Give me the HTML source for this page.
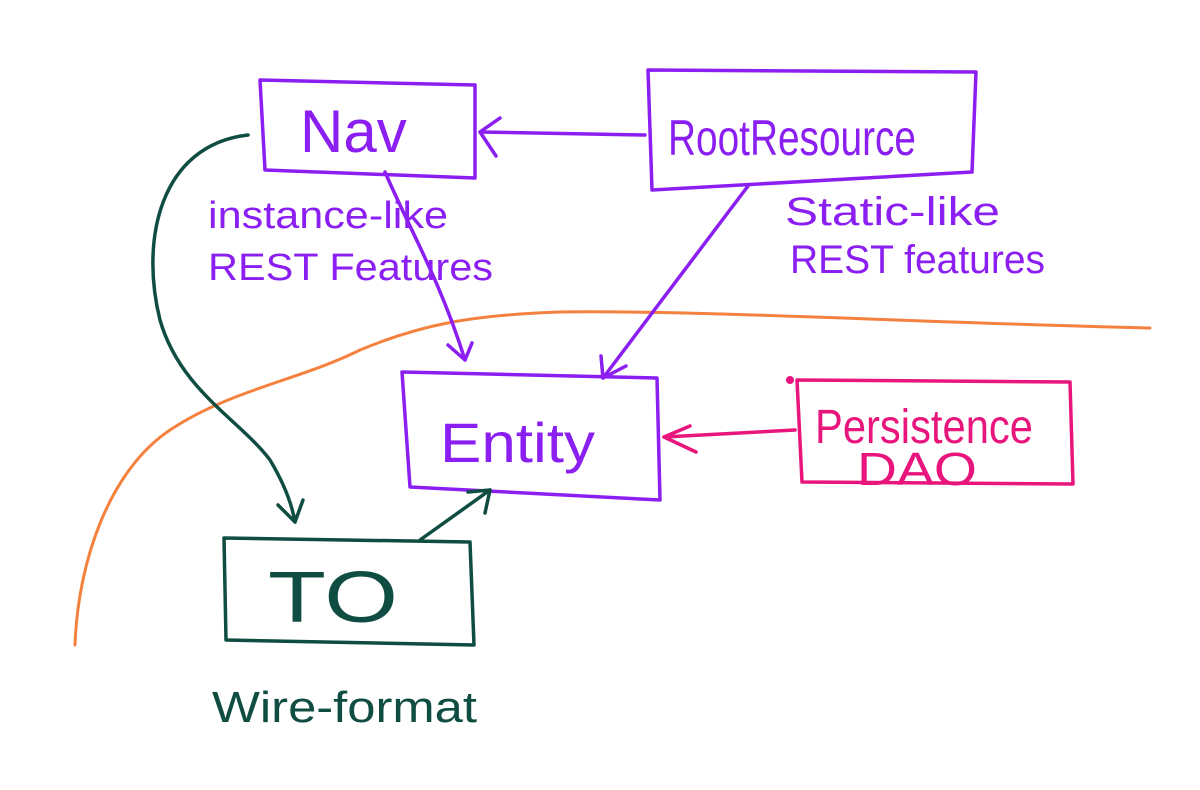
<!DOCTYPE html>
<html><head><meta charset="utf-8"><style>
html,body{margin:0;padding:0;background:#fff;width:1200px;height:790px;overflow:hidden}
svg text{font-family:"Liberation Sans",sans-serif}
</style></head><body>
<svg width="1200" height="790" viewBox="0 0 1200 790" xmlns="http://www.w3.org/2000/svg" fill="none" stroke-linecap="round" stroke-linejoin="round">
<path d="M75,645 C78,560 110,470 170,430 C230,390 300,380 360,350 C420,325 470,315 560,312 C700,310 900,322 1150,328" stroke="#f5813f" stroke-width="3"/>
<g stroke="#8b1ef0" stroke-width="3.5">
<path d="M260,80 L475,85 L475,178 L265,170 Z"/>
<path d="M648,70 L976,72 L972,172 L652,190 Z"/>
<path d="M402,372 L657,378 L660,500 L410,487 Z"/>
<path d="M645,135 L480,132"/><path d="M500,118 L480,132 L496,156"/>
<path d="M748,186 L603,378"/><path d="M601,356 L603,378 L626,366"/>
<path d="M385,172 C410,230 440,280 465,360"/><path d="M448,345 L465,360 L472,343"/>
</g>
<g stroke="#e8157c" stroke-width="3.5">
<path d="M797,380 L1070,382 L1073,484 L802,482 Z"/>
<path d="M795,430 L664,437"/><path d="M690,426 L664,437 L696,452"/>
</g>
<circle cx="790" cy="380" r="4" fill="#e8157c"/>
<g stroke="#0f4d42" stroke-width="3.5">
<path d="M224,538 L470,542 L474,645 L226,640 Z"/>
<path d="M248,135 C160,145 140,240 160,320 C180,390 240,420 270,460 C285,485 292,505 295,522"/>
<path d="M278,505 L295,522 L303,500"/>
<path d="M420,540 L490,490"/><path d="M468,492 L490,490 L485,513"/>
</g>
<text x="300" y="152" font-size="60" fill="#8b1ef0">Nav</text>
<text x="668" y="155" font-size="50" fill="#8b1ef0" textLength="248" lengthAdjust="spacingAndGlyphs">RootResource</text>
<text x="440" y="462" font-size="56" fill="#8b1ef0" textLength="155" lengthAdjust="spacingAndGlyphs">Entity</text>
<text x="208" y="228" font-size="38" fill="#8b1ef0" textLength="240" lengthAdjust="spacingAndGlyphs">instance-like</text>
<text x="208" y="280" font-size="38" fill="#8b1ef0" textLength="285" lengthAdjust="spacingAndGlyphs">REST Features</text>
<text x="785" y="225" font-size="40" fill="#8b1ef0" textLength="215" lengthAdjust="spacingAndGlyphs">Static-like</text>
<text x="790" y="273" font-size="40" fill="#8b1ef0" textLength="255" lengthAdjust="spacingAndGlyphs">REST features</text>
<text x="815" y="443" font-size="48" fill="#e8157c" textLength="218" lengthAdjust="spacingAndGlyphs">Persistence</text>
<text x="857" y="485" font-size="46" fill="#e8157c" textLength="120" lengthAdjust="spacingAndGlyphs">DAO</text>
<text x="268" y="622" font-size="72" fill="#0f4d42" textLength="130" lengthAdjust="spacingAndGlyphs">TO</text>
<text x="212" y="722" font-size="44" fill="#0f4d42" textLength="265" lengthAdjust="spacingAndGlyphs">Wire-format</text>
</svg>
</body></html>
